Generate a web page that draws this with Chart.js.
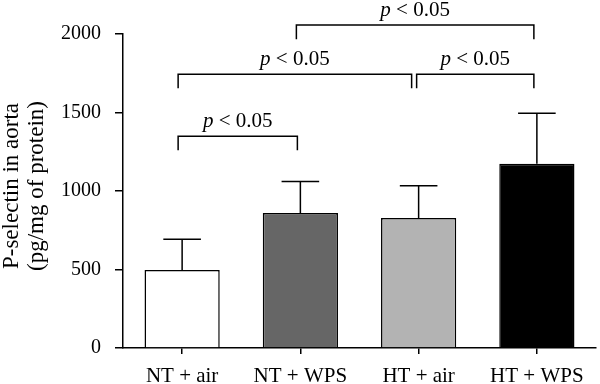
<!DOCTYPE html>
<html><head><meta charset="utf-8">
<script src="https://cdn.jsdelivr.net/npm/chart.js@4/dist/chart.umd.min.js"></script>
<style>html,body{margin:0;padding:0;background:#fff}canvas{display:block}</style>
</head><body>
<canvas id="c" width="600" height="384"></canvas>
<script>
const categories = ['NT + air', 'NT + WPS', 'HT + air', 'HT + WPS'];
const means = [497, 860, 828, 1174];
const errors = [195, 200, 206, 322];
const barColors = ['#ffffff', '#666666', '#b3b3b3', '#000000'];
const yTicks = [0, 500, 1000, 1500, 2000];
const yTitle = ['P-selectin in aorta', '(pg/mg of protein)'];
// [fromIndex, toIndex, bracketLevel, legBottom]
const brackets = [
  [0, 1, 1348, 1259],
  [0, 2, 1743, 1654],
  [2, 3, 1743, 1654],
  [1, 3, 2057, 1967]
];
const sigLabel = ['p', ' < 0.05'];

const FONT = '"Liberation Serif", "DejaVu Serif", serif';
const FS = 21;

const overlay = {
  id: 'overlay',
  afterDatasetsDraw(chart) {
    const ctx = chart.ctx, x = chart.scales.x, y = chart.scales.y;
    const ca = chart.chartArea;
    ctx.save();
    ctx.strokeStyle = '#000';
    ctx.lineWidth = 1.5;
    // error bars (upper only)
    means.forEach((m, i) => {
      const cx = x.getPixelForValue(i);
      const meta = chart.getDatasetMeta(0).data[i];
      const half = meta.width / 4;
      const top = y.getPixelForValue(m + errors[i]);
      const base = y.getPixelForValue(m);
      ctx.beginPath();
      ctx.moveTo(cx, base); ctx.lineTo(cx, top);
      ctx.moveTo(cx - half, top); ctx.lineTo(cx + half, top);
      ctx.stroke();
    });
    // brackets
    brackets.forEach((b, k) => {
      let x1 = x.getPixelForValue(b[0]) - 4;
      let x2 = x.getPixelForValue(b[1]) - 3;
      brackets.forEach((o, j) => {
        if (j !== k && o[2] === b[2]) {
          if (o[0] === b[1]) x2 -= 4;
          if (o[1] === b[0]) x1 += 2;
        }
      });
      const yl = y.getPixelForValue(b[2]);
      const yb = y.getPixelForValue(b[3]);
      ctx.beginPath();
      ctx.moveTo(x1, yb); ctx.lineTo(x1, yl); ctx.lineTo(x2, yl); ctx.lineTo(x2, yb);
      ctx.stroke();
      const italic = 'italic ' + FS + 'px ' + FONT, reg = FS + 'px ' + FONT;
      ctx.font = italic; const w1 = ctx.measureText(sigLabel[0]).width;
      ctx.font = reg; const w2 = ctx.measureText(sigLabel[1]).width;
      const cx = (x1 + x2) / 2;
      const sx = cx - (w1 + w2) / 2;
      ctx.fillStyle = '#000';
      ctx.textBaseline = 'alphabetic';
      ctx.textAlign = 'left';
      ctx.font = italic; ctx.fillText(sigLabel[0], sx, yl - 9);
      ctx.font = reg; ctx.fillText(sigLabel[1], sx + w1, yl - 9);
    });
    // y-axis title (two rotated lines)
    ctx.save();
    ctx.translate(12, (ca.top + ca.bottom) / 2 - 5);
    ctx.rotate(-Math.PI / 2);
    ctx.font = '23px ' + FONT;
    ctx.fillStyle = '#000';
    ctx.textAlign = 'center';
    ctx.textBaseline = 'middle';
    ctx.fillText(yTitle[0], 0, 0);
    ctx.fillText(yTitle[1], 0, 25);
    ctx.restore();
    ctx.restore();
  }
};

new Chart(document.getElementById('c'), {
  type: 'bar',
  data: {
    labels: categories,
    datasets: [{
      data: means,
      backgroundColor: barColors,
      borderColor: '#000',
      borderWidth: 1.5,
      borderSkipped: 'bottom',
      barPercentage: 0.636,
      categoryPercentage: 1
    }]
  },
  options: {
    responsive: false,
    animation: false,
    layout: { padding: { top: 34, right: 4, left: 0, bottom: 0 } },
    plugins: { legend: { display: false }, tooltip: { enabled: false } },
    scales: {
      x: {
        grid: { display: true, offset: false, drawOnChartArea: false, tickLength: 6, color: '#000', lineWidth: 1.5 },
        border: { color: '#000', width: 1.5 },
        ticks: { color: '#000', font: { family: FONT, size: FS }, padding: 10, maxRotation: 0 },
        afterFit(s) { s.height = 36; }
      },
      y: {
        min: 0, max: 2000,
        afterBuildTicks(s) { s.ticks = yTicks.map(v => ({ value: v })); },
        grid: { display: true, drawOnChartArea: false, tickLength: 8, color: '#000', lineWidth: 1.5 },
        border: { color: '#000', width: 1.5 },
        ticks: { color: '#000', font: { family: FONT, size: 20 }, padding: 14, callback: v => String(v) },
        title: { display: false },
        afterFit(s) { s.width = 123; }
      }
    }
  },
  plugins: [overlay]
});
</script>
</body></html>
